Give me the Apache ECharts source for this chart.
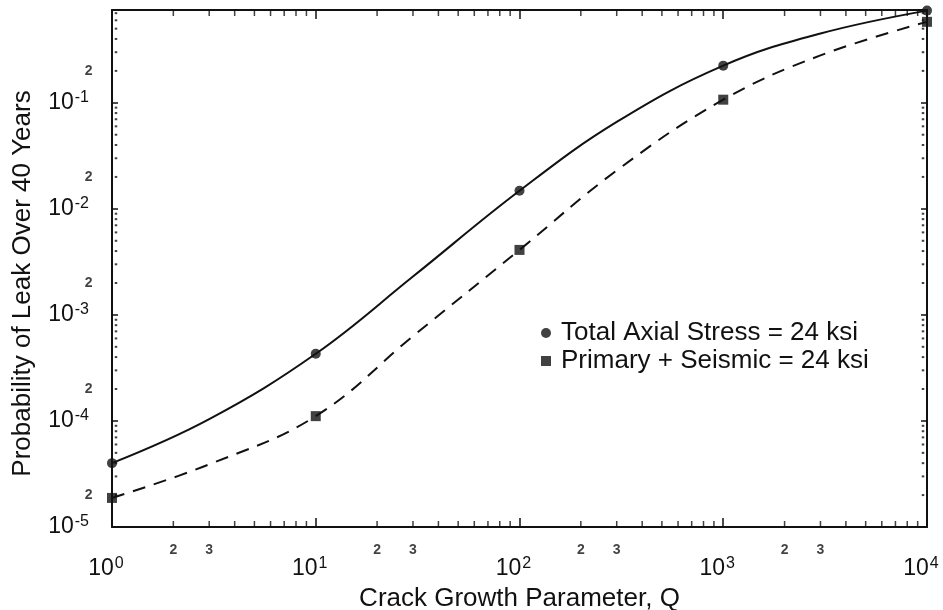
<!DOCTYPE html>
<html>
<head>
<meta charset="utf-8">
<script src="https://cdn.jsdelivr.net/npm/echarts@6/dist/echarts.min.js"></script>
<style>
html,body{margin:0;padding:0;background:#fff;}
#chart{width:943px;height:610px;}
</style>
</head>
<body>
<div id="chart"></div>
<script>
// ---- data ----
const qValues        = [1, 3, 10, 30, 100, 300, 1000, 3000, 10000];
const totalAxial     = [4.0e-5, 1.04e-4, 4.3e-4, 2.3e-3, 1.48e-2, 6.6e-2, 0.224, 0.45, 0.74];
const primarySeismic = [1.88e-5, 3.9e-5, 1.11e-4, 6.3e-4, 4.1e-3, 2.3e-2, 0.107, 0.28, 0.58];
const markerQ        = [1, 10, 100, 1000, 10000];
const totalMarkers   = [4.0e-5, 4.3e-4, 1.48e-2, 0.224, 0.74];
const primaryMarkers = [1.88e-5, 1.11e-4, 4.1e-3, 0.107, 0.58];
const seriesNames    = ['Total Axial Stress = 24 ksi', 'Primary + Seismic = 24 ksi'];
const xDecades       = [0, 1, 2, 3];        // exponents with minor ticks
const yDecades       = [-5, -4, -3, -2, -1];
const minorMult      = [2, 3, 4, 5, 6, 7, 8, 9];
const xMinorLabels   = ['2', '3'];
const yMinorLabels   = ['2'];
const xAxisTitle = 'Crack Growth Parameter, Q';
const yAxisTitle = 'Probability of Leak Over 40 Years';

const X_MIN = 1, X_MAX = 10000, Y_MIN = 1e-5, Y_MAX = 0.75;
const FONT = 'Liberation Sans, Arial, Helvetica, sans-serif';

function zip(a, b) { return a.map((v, i) => [v, b[i]]); }

const xMinor = [], yMinor = [];
xDecades.forEach(e => minorMult.forEach(m => xMinor.push(m * Math.pow(10, e))));
yDecades.forEach(e => minorMult.forEach(m => { const v = m * Math.pow(10, e); if (v < Y_MAX) yMinor.push(v); }));
const xMinorLab = [], yMinorLab = [];
xDecades.forEach(e => xMinorLabels.forEach(l => xMinorLab.push({ value: [Number(l) * Math.pow(10, e), Y_MIN], label: l })));
yDecades.forEach(e => yMinorLabels.forEach(l => { const v = Number(l) * Math.pow(10, e); if (v < Y_MAX) yMinorLab.push({ value: [X_MIN, v], label: l }); }));

function decadeLabel(v) {
  const e = Math.log10(v);
  const r = Math.round(e);
  if (Math.abs(e - r) > 1e-6) return '';
  return '{a|10}{b|' + r + '}';
}
const richLab = {
  a: { fontSize: 23, fontFamily: FONT, color: '#111' },
  b: { fontSize: 16, fontFamily: FONT, color: '#111', padding: [0, 0, 10, 1] }
};

const chart = echarts.init(document.getElementById('chart'));
const tickSeries = (data, size, offset) => ({
  type: 'scatter', data: data, symbol: 'rect', symbolSize: size, symbolOffset: offset,
  itemStyle: { color: '#111' }, silent: true, clip: false, z: 5, legendHoverLink: false
});

chart.setOption({
  animation: false,
  backgroundColor: '#fff',
  grid: { left: 112, right: 16, top: 10, bottom: 83, containLabel: false, outerBoundsMode: 'none' },
  legend: {
    left: 536, top: 315, orient: 'vertical', itemGap: 2,
    itemWidth: 10, itemHeight: 10,
    textStyle: { fontSize: 26, fontFamily: FONT, color: '#111', padding: [0, 0, 0, 5] },
    data: [{ name: seriesNames[0], icon: 'circle' }, { name: seriesNames[1], icon: 'rect' }]
  },
  xAxis: [{
    type: 'log', logBase: 10, min: X_MIN, max: X_MAX, position: 'bottom',
    name: xAxisTitle, nameLocation: 'middle', nameGap: 57,
    nameTextStyle: { fontSize: 26, fontFamily: FONT, color: '#111' },
    axisLine: { lineStyle: { color: '#111', width: 2 } },
    axisTick: { inside: true, length: 9, lineStyle: { color: '#111', width: 1.5 } },
    axisLabel: { formatter: decadeLabel, rich: richLab, margin: 29, hideOverlap: false, padding: [0, 12, 0, 0] },
    splitLine: { show: false }, minorTick: { show: false }
  }, {
    type: 'log', logBase: 10, min: X_MIN, max: X_MAX, position: 'top',
    axisLine: { lineStyle: { color: '#111', width: 2 } },
    axisTick: { inside: true, length: 9, lineStyle: { color: '#111', width: 1.5 } },
    axisLabel: { show: false }, splitLine: { show: false }
  }],
  yAxis: [{
    type: 'log', logBase: 10, min: Y_MIN, max: Y_MAX, interval: 1, position: 'left',
    name: yAxisTitle, nameLocation: 'middle', nameGap: 76,
    nameTextStyle: { fontSize: 26, fontFamily: FONT, color: '#111', padding: [0, 30, 0, 0] },
    axisLine: { lineStyle: { color: '#111', width: 2 } },
    axisTick: { inside: true, length: 6, lineStyle: { color: '#111', width: 1.5 } },
    axisLabel: { formatter: decadeLabel, rich: richLab, margin: 23, hideOverlap: false },
    splitLine: { show: false }
  }, {
    type: 'log', logBase: 10, min: Y_MIN, max: Y_MAX, interval: 1, position: 'right',
    axisLine: { lineStyle: { color: '#111', width: 2 } },
    axisTick: { inside: true, length: 6, lineStyle: { color: '#111', width: 1.5 } },
    axisLabel: { show: false }, splitLine: { show: false }
  }],
  series: [
    {
      type: 'line', data: zip(qValues, totalAxial), smooth: 0.4, showSymbol: false,
      lineStyle: { color: '#111', width: 2 }, silent: true, z: 3
    },
    {
      type: 'line', data: zip(qValues, primarySeismic), smooth: 0.4, showSymbol: false,
      lineStyle: { color: '#111', width: 2, type: [13, 9] }, silent: true, z: 3
    },
    {
      name: seriesNames[0], type: 'scatter', data: zip(markerQ, totalMarkers),
      symbol: 'circle', symbolSize: 10, itemStyle: { color: '#111' }, clip: false, z: 4
    },
    {
      name: seriesNames[1], type: 'scatter', data: zip(markerQ, primaryMarkers),
      symbol: 'rect', symbolSize: 10, itemStyle: { color: '#111' }, clip: false, z: 4
    },
    // minor ticks (bottom, top, left, right)
    tickSeries(xMinor.map(v => [v, Y_MIN]), [1.5, 6], [0, -3]),
    tickSeries(xMinor.map(v => [v, Y_MAX]), [1.5, 6], [0, 3]),
    tickSeries(yMinor.map(v => [X_MIN, v]), [2.5, 2], [4, 0]),
    tickSeries(yMinor.map(v => [X_MAX, v]), [2.5, 2], [-4, 0]),
    // minor tick labels
    {
      type: 'scatter', data: xMinorLab.map(d => ({ value: d.value, label: { formatter: d.label } })),
      symbolSize: 1, itemStyle: { color: 'rgba(0,0,0,0)' }, silent: true, clip: false,
      label: { show: true, position: 'bottom', distance: 16, fontSize: 14, fontWeight: 'bold', fontFamily: FONT, color: '#111' }
    },
    {
      type: 'scatter', data: yMinorLab.map(d => ({ value: d.value, label: { formatter: d.label } })),
      symbolSize: 1, itemStyle: { color: 'rgba(0,0,0,0)' }, silent: true, clip: false,
      label: { show: true, position: 'left', distance: 19, fontSize: 14, fontWeight: 'bold', fontFamily: FONT, color: '#111' }
    }
  ]
});
</script>
</body>
</html>
